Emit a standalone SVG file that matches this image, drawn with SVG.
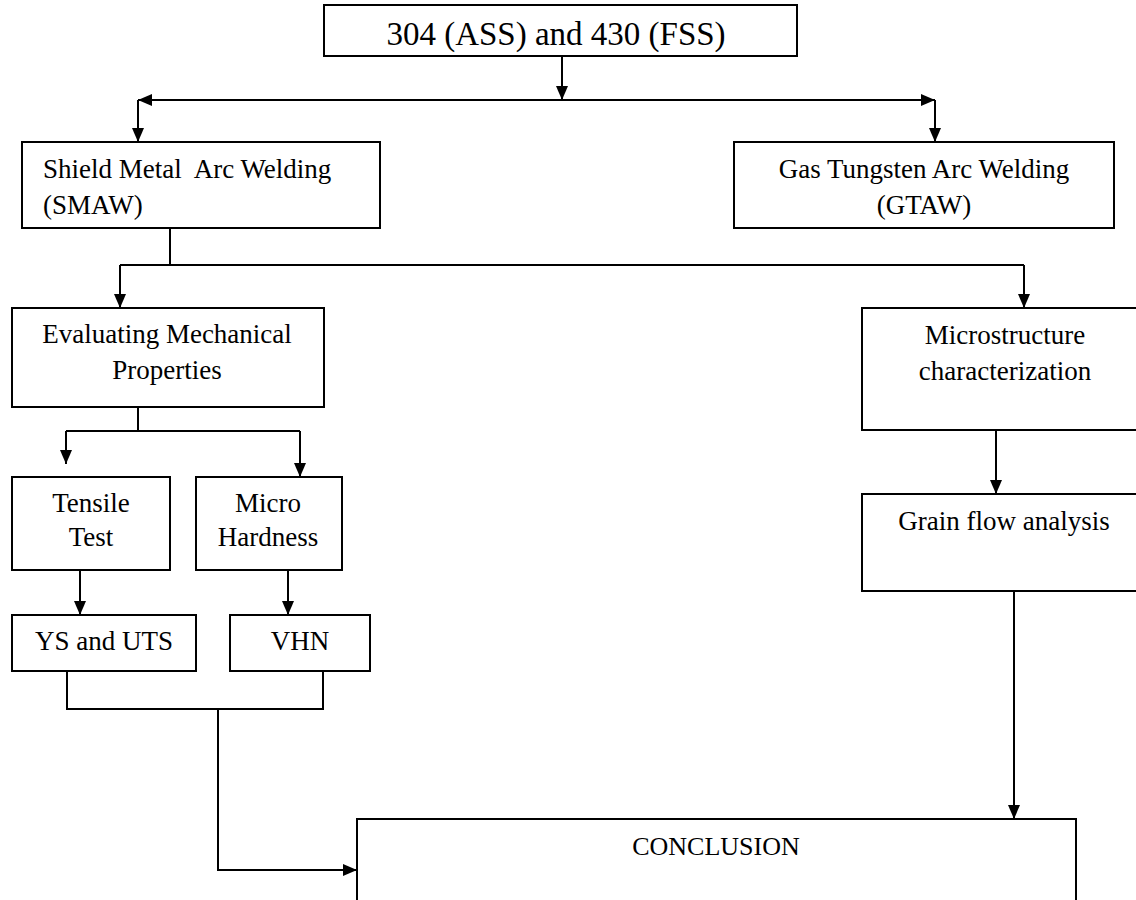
<svg xmlns="http://www.w3.org/2000/svg" width="1136" height="900" viewBox="0 0 1136 900">
<defs>
<marker id="ah" viewBox="0 0 14 12" refX="14" refY="6" markerWidth="14" markerHeight="12" markerUnits="userSpaceOnUse" orient="auto">
<path d="M0,0 L14,6 L0,12 z" fill="#000"/>
</marker>
<style>
.box{fill:#fff;stroke:#000;stroke-width:2}
.t{font-family:"Liberation Serif","Times New Roman",serif;font-size:27px;fill:#000}
.c{text-anchor:middle}
.ln{fill:none;stroke:#000;stroke-width:2}
.ar{fill:none;stroke:#000;stroke-width:2;marker-end:url(#ah)}
</style>
</defs>
<rect width="1136" height="900" fill="#fff"/>
<g id="connectors">
<path class="ar" d="M562,56 V100"/>
<path class="ar" d="M562,100 H138"/>
<path class="ar" d="M562,100 H935"/>
<path class="ar" d="M138,100 V142"/>
<path class="ar" d="M935,100 V142"/>
<path class="ln" d="M170,228 V265"/>
<path class="ln" d="M120,265 H1024"/>
<path class="ar" d="M120,265 V308"/>
<path class="ar" d="M1024,265 V308"/>
<path class="ln" d="M138,407 V431"/>
<path class="ln" d="M66,431 H300"/>
<path class="ar" d="M66,431 V464"/>
<path class="ar" d="M300,431 V477"/>
<path class="ar" d="M80,570 V615"/>
<path class="ar" d="M288,570 V615"/>
<path class="ar" d="M996,430 V494"/>
<path class="ln" d="M67,671 V709 H323 V671"/>
<path class="ar" d="M218,709 V870 H357"/>
<path class="ar" d="M1014,591 V819"/>
</g>
<g id="n-top"><rect class="box" x="324" y="5" width="473" height="51"/><text class="t c" x="556" y="45" style="font-size:33px">304 (ASS) and 430 (FSS)</text></g>
<g id="n-smaw"><rect class="box" x="22" y="142" width="358" height="86"/><text class="t" x="43" y="178" xml:space="preserve">Shield Metal  Arc Welding</text><text class="t" x="43" y="214">(SMAW)</text></g>
<g id="n-gtaw"><rect class="box" x="734" y="142" width="380" height="86"/><text class="t c" x="924" y="178">Gas Tungsten Arc Welding</text><text class="t c" x="924" y="214">(GTAW)</text></g>
<g id="n-eval"><rect class="box" x="12" y="308" width="312" height="99"/><text class="t c" x="167" y="343">Evaluating Mechanical</text><text class="t c" x="167" y="379">Properties</text></g>
<g id="n-micro"><rect class="box" x="862" y="308" width="290" height="122"/><text class="t c" x="1005" y="344">Microstructure</text><text class="t c" x="1005" y="380">characterization</text></g>
<g id="n-tensile"><rect class="box" x="12" y="477" width="158" height="93"/><text class="t c" x="91" y="512">Tensile</text><text class="t c" x="91" y="546">Test</text></g>
<g id="n-hard"><rect class="box" x="196" y="477" width="146" height="93"/><text class="t c" x="268" y="512">Micro</text><text class="t c" x="268" y="546">Hardness</text></g>
<g id="n-ys"><rect class="box" x="12" y="615" width="184" height="56"/><text class="t c" x="104" y="650">YS and UTS</text></g>
<g id="n-vhn"><rect class="box" x="230" y="615" width="140" height="56"/><text class="t c" x="300" y="650">VHN</text></g>
<g id="n-grain"><rect class="box" x="862" y="494" width="290" height="97"/><text class="t c" x="1004" y="530">Grain flow analysis</text></g>
<g id="n-conc"><rect class="box" x="357" y="819" width="719" height="100"/><text class="t c" x="716" y="855" style="font-size:26px">CONCLUSION</text></g>
</svg>
